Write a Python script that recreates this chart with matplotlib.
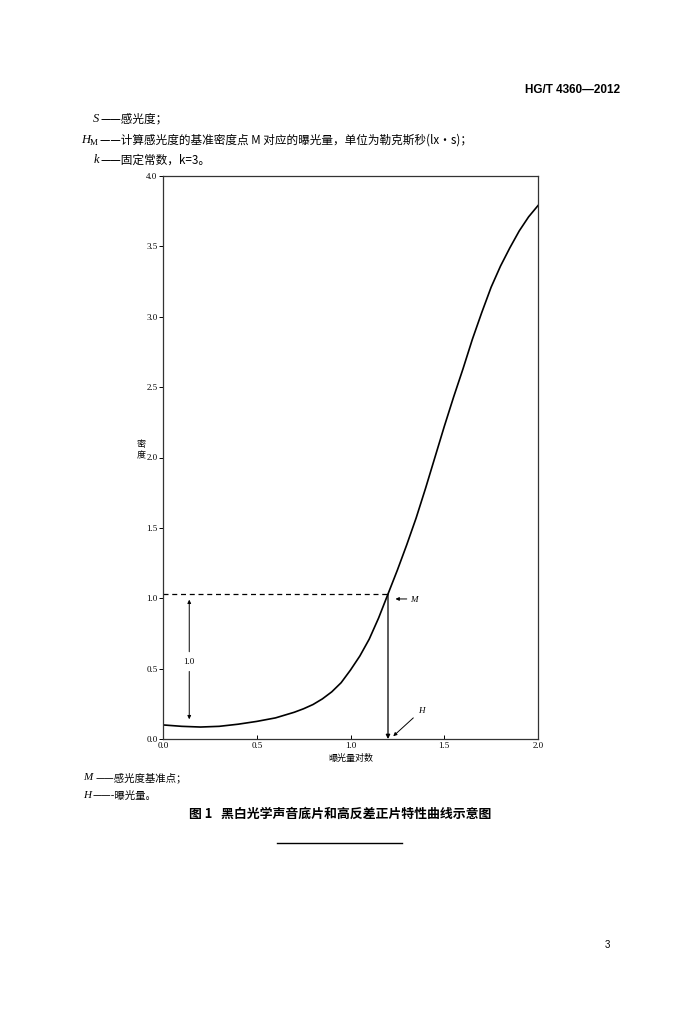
import matplotlib
matplotlib.use("Agg")
import matplotlib.pyplot as plt

plt.rcParams['font.family'] = ['Noto Sans CJK SC', 'DejaVu Sans']

# curve
log_exposure = [0.0, 0.1, 0.2, 0.3, 0.4, 0.5, 0.6, 0.65, 0.7, 0.75, 0.8, 0.85, 0.9, 0.95, 1.0,
                1.05, 1.1, 1.15, 1.2, 1.25, 1.3, 1.35, 1.4, 1.45, 1.5, 1.55, 1.6, 1.65,
                1.7, 1.75, 1.8, 1.85, 1.9, 1.95, 2.0]
density = [0.10, 0.09, 0.085, 0.09, 0.105, 0.125, 0.15, 0.17, 0.19, 0.215, 0.245, 0.285, 0.335, 0.40, 0.49,
           0.59, 0.71, 0.86, 1.03, 1.20, 1.38, 1.57, 1.78, 2.00, 2.22, 2.43, 2.63, 2.84,
           3.03, 3.21, 3.36, 3.49, 3.61, 3.71, 3.79]
m_x = 1.2
m_y = 1.03
base_y = 0.10
xticks = [0.0, 0.5, 1.0, 1.5, 2.0]
yticks = [0.0, 0.5, 1.0, 1.5, 2.0, 2.5, 3.0, 3.5, 4.0]

serif = "Liberation Serif"

fig = plt.figure(figsize=(7, 10.24), dpi=100)
ax = fig.add_axes([163/700, 1-739/1024, 375/700, 563/1024])

ax.plot(log_exposure, density, color="black", lw=1.2)

# reference point M
ax.plot([0, m_x], [m_y, m_y], color="black", lw=0.9, ls=(0, (4, 3)))
ax.annotate("", xy=(m_x, 0), xytext=(m_x, m_y),
            arrowprops=dict(arrowstyle="-|>", color="black", lw=0.9,
                            mutation_scale=6, shrinkA=0, shrinkB=0))
# 1.0 density interval arrow
ax.annotate("", xy=(0.14, m_y - 0.04), xytext=(0.14, 0.62),
            arrowprops=dict(arrowstyle="-|>", color="black", lw=0.7,
                            mutation_scale=5, shrinkA=0, shrinkB=0))
ax.annotate("", xy=(0.14, base_y + 0.04), xytext=(0.14, 0.48),
            arrowprops=dict(arrowstyle="-|>", color="black", lw=0.7,
                            mutation_scale=5, shrinkA=0, shrinkB=0))
ax.text(0.14, 0.55, "1.0", fontsize=6.5, family=serif, ha="center", va="center")

ax.annotate("", xy=(1.24, 0.995), xytext=(1.3, 0.995),
            arrowprops=dict(arrowstyle="-|>", color="black", lw=0.7,
                            mutation_scale=5, shrinkA=0, shrinkB=0))
ax.text(1.32, 0.99, "M", fontsize=6.5, family=serif, style="italic", va="center")
ax.annotate("", xy=(1.228, 0.02), xytext=(1.335, 0.15),
            arrowprops=dict(arrowstyle="-|>", color="black", lw=0.7,
                            mutation_scale=5, shrinkA=0, shrinkB=0))
ax.text(1.36, 0.17, "H", fontsize=6.5, family=serif, style="italic", va="bottom")

ax.set_xlim(0, 2.0)
ax.set_ylim(0, 4.0)
ax.set_xticks(xticks)
ax.set_yticks(yticks)
ax.set_xticklabels([f"{t:.1f}" for t in xticks], family=serif, fontsize=6.5)
ax.set_yticklabels([f"{t:.1f}" for t in yticks], family=serif, fontsize=6.5)
ax.tick_params(axis="x", direction="in", length=3, width=0.7, pad=2)
ax.tick_params(axis="y", direction="out", length=3, width=0.7, pad=1)
for s in ax.spines.values():
    s.set_linewidth(0.9)
    s.set_color("#333333")

ax.set_xlabel("曝光量对数", fontsize=6.5, labelpad=3)
fig.text(141/700, 1-450/1024, "密\n度", fontsize=6.5, ha="center", va="center", linespacing=1.4)

# page text
fs = 8.4
fig.text(620/700, 1-90/1024, "HG/T 4360—2012", fontsize=8.5, weight="bold",
         family="Liberation Sans", ha="right", va="center")
fig.text(99/700, 1-119/1024, "S", fontsize=9, family=serif, style="italic", ha="right", va="center")
fig.text(100/700, 1-119/1024, "——感光度；", fontsize=fs, ha="left", va="center")
fig.text(90/700, 1-140/1024, "H", fontsize=9, family=serif, style="italic", ha="right", va="center")
fig.text(90/700, 1-143/1024, "M", fontsize=6.5, family=serif, ha="left", va="center")
fig.text(100/700, 1-140/1024, "——计算感光度的基准密度点 M 对应的曝光量，单位为勒克斯秒(lx・s)；",
         fontsize=fs, ha="left", va="center")
fig.text(99/700, 1-160/1024, "k", fontsize=9, family=serif, style="italic", ha="right", va="center")
fig.text(100/700, 1-160/1024, "——固定常数，k=3。", fontsize=fs, ha="left", va="center")

fig.text(83/700, 1-778/1024, "M", fontsize=8, family=serif, style="italic", ha="left", va="center")
fig.text(96/700, 1-778/1024, "——感光度基准点；", fontsize=7.5, ha="left", va="center")
fig.text(83/700, 1-796/1024, "H", fontsize=8, family=serif, style="italic", ha="left", va="center")
fig.text(93/700, 1-796/1024, "——-曝光量。", fontsize=7.5, ha="left", va="center")

fig.text(340/700, 1-814/1024, "图 1   黑白光学声音底片和高反差正片特性曲线示意图",
         fontsize=9.3, weight="bold", ha="center", va="center")
fig.add_artist(plt.Line2D([277/700, 402/700], [1-843/1024, 1-843/1024],
                          color="black", lw=1.0))
fig.text(607/700, 1-945/1024, "3", fontsize=7, family="Liberation Sans", ha="center", va="center")

fig.savefig("out.png", dpi=100, facecolor="white")
